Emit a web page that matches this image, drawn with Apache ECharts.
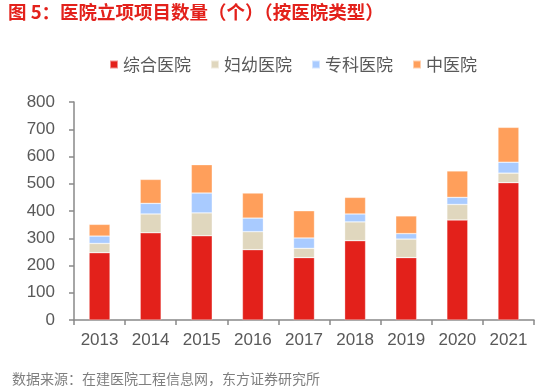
<!DOCTYPE html>
<html><head><meta charset="utf-8">
<script src="https://cdn.jsdelivr.net/npm/echarts@6/dist/echarts.min.js"></script>
<style>html,body{margin:0;padding:0;background:#fff}#c{width:556px;height:392px}</style>
</head><body><div id="c"></div>
<script>
const categories = ['2013','2014','2015','2016','2017','2018','2019','2020','2021'];
const general = [247, 320, 309, 258, 229, 291, 229, 367, 504];
const maternal = [34, 69, 84, 66, 34, 69, 68, 57, 35];
const specialty = [27, 39, 73, 50, 38, 29, 20, 26, 40];
const tcm = [43, 88, 104, 92, 100, 61, 65, 97, 128];
const yTicks = [0, 100, 200, 300, 400, 500, 600, 700, 800];

const chart = echarts.init(document.getElementById('c'));
const font = '"Microsoft YaHei","Noto Sans CJK SC",sans-serif';
const numFont = '"Liberation Sans",Arial,sans-serif';
const mk = (name, data, color) => ({
  name, type: 'bar', stack: 'a', data, barWidth: '41%',
  itemStyle: { color, borderColor: 'rgba(255,255,255,0.5)', borderWidth: 0.6 }
});
chart.setOption({
  animation: false,
  textStyle: { fontFamily: font },
  graphic: [
    { type: 'text', left: 8, top: 3, style: { text: '图 5：医院立项项目数量（个）（按医院类型）', fill: '#E3211B', font: 'bold 18.5px ' + font } },
    { type: 'text', left: 12, top: 372, style: { text: '数据来源：在建医院工程信息网，东方证券研究所', fill: '#7F7F7F', font: '14px ' + font } }
  ],
  legend: {
    top: 51, left: 104, itemWidth: 8, itemHeight: 8, itemGap: 19,
    icon: 'rect',
    textStyle: { color: '#595959', fontSize: 17, fontFamily: font },
    data: ['综合医院', '妇幼医院', '专科医院', '中医院']
  },
  grid: { left: 74, right: 22, top: 102, bottom: 72 },
  xAxis: {
    type: 'category', data: categories,
    axisLine: { lineStyle: { color: '#898989', width: 1.5 } },
    axisTick: { show: true, alignWithLabel: false, length: 5, lineStyle: { color: '#898989', width: 1.5 } },
    axisLabel: { color: '#595959', fontSize: 17, fontFamily: numFont, margin: 12 }
  },
  yAxis: {
    type: 'value', min: 0, max: 800, interval: 100,
    splitLine: { show: false },
    axisLine: { show: true, lineStyle: { color: '#898989', width: 1.5 } },
    axisTick: { show: true, length: 5, lineStyle: { color: '#898989', width: 1.5 } },
    axisLabel: { color: '#595959', fontSize: 17, fontFamily: numFont, margin: 19,
      formatter: v => yTicks.includes(v) ? String(v) : '' }
  },
  series: [
    mk('综合医院', general, '#E3211B'),
    mk('妇幼医院', maternal, '#E0D7BE'),
    mk('专科医院', specialty, '#A9CBFF'),
    mk('中医院', tcm, '#FF9F5B')
  ]
});
</script></body></html>
